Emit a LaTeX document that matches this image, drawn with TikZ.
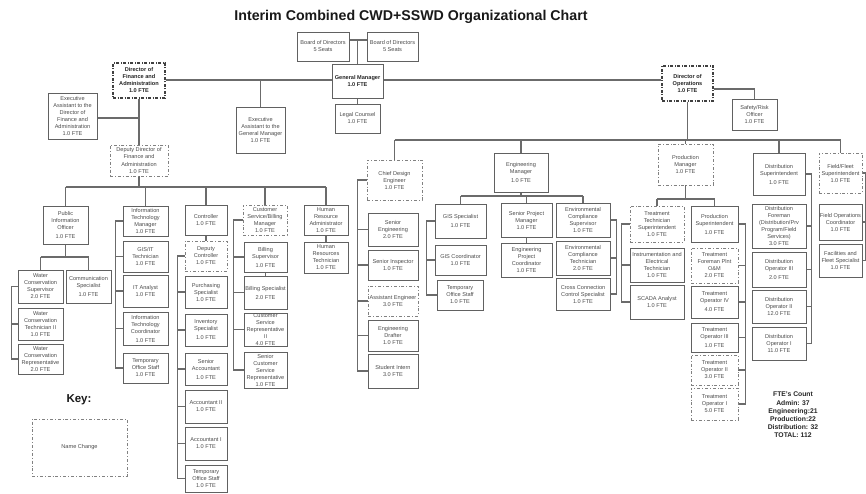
\documentclass[tikz,border=0pt]{standalone}
\usepackage{fontspec}
\setmainfont{Liberation Sans}
\usetikzlibrary{backgrounds,calc}

\definecolor{boxline}{gray}{0.38}
\definecolor{wirec}{gray}{0.42}
\definecolor{txtc}{gray}{0.30}

\newcommand\bxfont{\fontsize{5.6}{7}\selectfont}

% \orgbox[style]{name}{x1}{y1}{x2}{y2}{text}
\newcommand\orgbox[7][box]{%
  \node[#1, minimum width={(#5-#3)*1pt}, minimum height={(#6-#4)*1pt}]
    (#2) at ({(#3+#5)/2},{(#4+#6)/2}) {#7};}

\tikzset{
  box/.style={draw=boxline, line width=0.9pt, fill=white, align=center,
    inner sep=0pt, font=\bxfont, text=txtc},
  dbox/.style={box, draw=boxline!80, line width=0.8pt,
    dash pattern=on 3pt off 2pt on 0.8pt off 2pt},
  dirbox/.style={box, draw=black!75, line width=1.3pt, text=black!85,
    font=\bxfont\bfseries, dash pattern=on 3pt off 1.5pt on 1pt off 1.5pt},
  boldbox/.style={box, text=black!85, font=\bxfont\bfseries},
  wire/.style={draw=wirec, line width=1.1pt},
}

\begin{document}
\begin{tikzpicture}[x=1pt,y=-1pt]
\useasboundingbox (0,0) rectangle (866,494);

\node[font=\bfseries\fontsize{14.2}{16}\selectfont, text=black!90] (title) at (411,17)
  {Interim Combined CWD+SSWD Organizational Chart};

% top level
\orgbox{b1}{297}{32}{349}{61}{Board of Directors\\5 Seats}
\orgbox{b2}{367}{32}{418}{61}{Board of Directors\\5 Seats}
\orgbox[boldbox]{gm}{332}{64}{383}{98}{General Manager\\1.0 FTE}
\orgbox{lc}{335}{104}{380}{133}{Legal Counsel\\1.0 FTE}
\orgbox{eagm}{236}{107}{285}{153}{Executive\\Assistant to the\\General Manager\\1.0 FTE}

% finance and administration
\orgbox[dirbox]{dfa}{113}{63}{165}{98}{Director of\\Finance and\\Administration\\1.0 FTE}
\orgbox{eadfa}{48}{93}{97}{139}{Executive\\Assistant to the\\Director of\\Finance and\\Administration\\1.0 FTE}
\orgbox[dbox]{dep}{110}{145}{168}{176}{Deputy Director of\\Finance and\\Administration\\1.0 FTE}

\orgbox{pio}{43}{206}{88}{244}{Public\\Information\\Officer\\[2pt]1.0 FTE}
\orgbox{wcs}{18}{270}{63}{303}{Water\\Conservation\\Supervisor\\2.0 FTE}
\orgbox{csp}{66}{270}{111}{303}{Communication\\Specialist\\[2pt]1.0 FTE}
\orgbox{wct}{18}{308}{63}{340}{Water\\Conservation\\Technician II\\1.0 FTE}
\orgbox{wcr}{18}{344}{63}{374}{Water\\Conservation\\Representative\\2.0 FTE}

\orgbox{itm}{123}{206}{168}{236}{Information\\Technology\\Manager\\1.0 FTE}
\orgbox{gisit}{123}{241}{168}{272}{GIS/IT\\Technician\\1.0 FTE}
\orgbox{ita}{123}{275}{168}{307}{IT Analyst\\1.0 FTE}
\orgbox{itc}{123}{312}{168}{345}{Information\\Technology\\Coordinator\\[2pt]1.0 FTE}
\orgbox{tos1}{123}{353}{168}{383}{Temporary\\Office Staff\\1.0 FTE}

\orgbox{ctl}{185}{205}{227}{235}{Controller\\1.0 FTE}
\orgbox[dbox]{dc}{185}{241}{227}{271}{Deputy\\Controller\\1.0 FTE}
\orgbox{pur}{185}{276}{227}{308}{Purchasing\\Specialist\\1.0 FTE}
\orgbox{inv}{185}{314}{227}{346}{Inventory\\Specialist\\[2pt]1.0 FTE}
\orgbox{sa}{185}{353}{227}{385}{Senior\\Accountant\\[2pt]1.0 FTE}
\orgbox{a2}{185}{390}{227}{423}{Accountant II\\1.0 FTE}
\orgbox{a1}{185}{427}{227}{460}{Accountant I\\1.0 FTE}
\orgbox{tos2}{185}{465}{227}{492}{Temporary\\Office Staff\\1.0 FTE}

\orgbox[dbox]{csbm}{243}{205}{287}{235}{Customer\\Service/Billing\\Manager\\1.0 FTE}
\orgbox{bsup}{244}{242}{287}{272}{Billing\\Supervisor\\[2pt]1.0 FTE}
\orgbox{bspec}{244}{276}{287}{309}{Billing Specialist\\[2pt]2.0 FTE}
\orgbox{csr}{244}{313}{287}{346}{Customer\\Service\\Representative\\II\\4.0 FTE}
\orgbox{scsr}{244}{352}{287}{388}{Senior\\Customer\\Service\\Representative\\1.0 FTE}

\orgbox{hra}{304}{205}{348}{235}{Human\\Resource\\Administrator\\1.0 FTE}
\orgbox{hrt}{304}{242}{348}{273}{Human\\Resources\\Technician\\1.0 FTE}

% operations
\orgbox[dirbox]{dop}{662}{66}{713}{101}{Director of\\Operations\\1.0 FTE}
\orgbox{sro}{732}{99}{777}{130}{Safety/Risk\\Officer\\1.0 FTE}

\orgbox[dbox]{cde}{367}{160}{422}{200}{Chief Design\\Engineer\\1.0 FTE}
\orgbox{seng}{368}{213}{418}{246}{Senior\\Engineering\\2.0 FTE}
\orgbox{sins}{368}{250}{418}{280}{Senior Inspector\\1.0 FTE}
\orgbox[dbox]{aeng}{368}{286}{418}{316}{Assistant Engineer\\3.0 FTE}
\orgbox{edr}{368}{320}{418}{351}{Engineering\\Drafter\\1.0 FTE}
\orgbox{sti}{368}{354}{418}{388}{Student Intern\\3.0 FTE}

\orgbox{em}{494}{153}{548}{192}{Engineering\\Manager\\[2pt]1.0 FTE}
\orgbox{gis}{435}{204}{486}{238}{GIS Specialist\\[2pt]1.0 FTE}
\orgbox{gisc}{435}{245}{486}{275}{GIS Coordinator\\1.0 FTE}
\orgbox{tos3}{437}{280}{483}{310}{Temporary\\Office Staff\\1.0 FTE}
\orgbox{spm}{501}{203}{552}{237}{Senior Project\\Manager\\1.0 FTE}
\orgbox{epc}{501}{243}{552}{277}{Engineering\\Project\\Coordinator\\1.0 FTE}
\orgbox{ecs}{556}{203}{610}{237}{Environmental\\Compliance\\Supervisor\\1.0 FTE}
\orgbox{ect}{556}{241}{610}{275}{Environmental\\Compliance\\Technician\\2.0 FTE}
\orgbox{ccs}{556}{278}{610}{310}{Cross Connection\\Control Specialist\\1.0 FTE}

\orgbox[dbox]{pm}{658}{144}{713}{185}{Production\\Manager\\1.0 FTE}
\orgbox[dbox]{tts}{630}{206}{684}{242}{Treatment\\Technician\\Superintendent\\1.0 FTE}
\orgbox{iet}{630}{248}{684}{282}{Instrumentation and\\Electrical\\Technician\\1.0 FTE}
\orgbox{scada}{630}{285}{684}{319}{SCADA Analyst\\1.0 FTE}
\orgbox{psup}{691}{206}{738}{242}{Production\\Superintendent\\[2pt]1.0 FTE}
\orgbox[dbox]{tfp}{691}{248}{738}{283}{Treatment\\Foreman Plnt\\O\&M\\2.0 FTE}
\orgbox{to4}{691}{286}{738}{318}{Treatment\\Operator IV\\[2pt]4.0 FTE}
\orgbox{to3}{691}{323}{738}{352}{Treatment\\Operator III\\[2pt]1.0 FTE}
\orgbox[dbox]{to2}{691}{355}{738}{385}{Treatment\\Operator II\\3.0 FTE}
\orgbox[dbox]{to1}{691}{388}{738}{420}{Treatment\\Operator I\\5.0 FTE}

\orgbox{ds}{753}{153}{805}{195}{Distribution\\Superintendent\\[2pt]1.0 FTE}
\orgbox{df}{752}{204}{806}{248}{Distribution\\Foreman\\(Distribution/Prv\\Program/Field\\Services)\\3.0 FTE}
\orgbox{do3}{752}{252}{806}{287}{Distribution\\Operator III\\[2pt]2.0 FTE}
\orgbox{do2}{752}{290}{806}{323}{Distribution\\Operator II\\12.0 FTE}
\orgbox{do1}{752}{327}{806}{360}{Distribution\\Operator I\\11.0 FTE}

\orgbox[dbox]{ff}{819}{153}{862}{193}{Field/Fleet\\Superintendent\\1.0 FTE}
\orgbox{foc}{819}{204}{862}{240}{Field Operations\\Coordinator\\1.0 FTE}
\orgbox{ffs}{819}{244}{862}{277}{Facilities and\\Fleet Specialist\\1.0 FTE}

% key and totals
\node[font=\bfseries\fontsize{11.5}{13}\selectfont, text=black!90] (keylabel) at (79,400) {Key:};
\orgbox[dbox]{keybox}{32}{419}{127}{476}{Name Change}
\node[align=center, font=\bfseries\fontsize{6.8}{8.2}\selectfont, text=black!85] (fte) at (793,415)
  {FTE's Count\\Admin: 37\\Engineering:21\\Production:22\\Distribution: 32\\TOTAL: 112};

% connectors, drawn beneath the boxes
\begin{scope}[on background layer]
  \fill[white] (0,0) rectangle (866,494);
  \begin{scope}[every path/.append style={wire}]
  \coordinate (bb) at (0,40);
  \draw (b1.east |- bb) -- (b2.west |- bb);
  \draw (gm.north) -- (gm.north |- bb);
  \draw (gm.south) -- (lc.north);
  \coordinate (gmbus) at (0,80);
  \draw (dfa.east |- gmbus) -- (dop.west |- gmbus);
  \draw (eagm.north) -- (eagm.north |- gmbus);

  % finance and administration
  \draw (dfa.south) -- (dep.north);
  \coordinate (eab) at (0,118);
  \draw (eadfa.east |- eab) -- (dfa.south |- eab);
  \coordinate (fbus) at (0,187);
  \draw (dep.south) -- (dep.south |- fbus);
  \draw (pio.north |- fbus) -- (hra.north |- fbus);
  \foreach \n in {pio,itm,ctl,csbm,hra} \draw (\n.north) -- (\n.north |- fbus);
  \coordinate (pbus) at (0,257);
  \draw (pio.south) -- (pio.south |- pbus);
  \draw (wcs.north |- pbus) -- (csp.north |- pbus);
  \foreach \n in {wcs,csp} \draw (\n.north) -- (\n.north |- pbus);
  \foreach \n in {wct,wcr} \draw (wcs.west) -- ++(-6,0) |- (\n.west);
  \foreach \n in {gisit,ita,itc,tos1} \draw (itm.west) -- ++(-7,0) |- (\n.west);
  \draw (ctl.south) -- (dc.north);
  \foreach \n in {pur,inv,sa,a2,a1,tos2} \draw (dc.west) -- ++(-7,0) |- (\n.west);
  \foreach \n in {bsup,bspec,csr,scsr} \draw (csbm.west) -- ++(-9,0) |- (\n.west);
  \draw (bsup.south) -- (bspec.north);
  \draw (hra.south) -- (hrt.north);

  % operations
  \coordinate (sb) at (0,89);
  \draw (dop.east |- sb) -| (sro.north);
  \coordinate (obus) at (0,140);
  \draw (dop.south) -- (dop.south |- obus);
  \draw (cde.north |- obus) -- (ff.north |- obus);
  \foreach \n in {cde,em,pm,ds,ff} \draw (\n.north) -- (\n.north |- obus);
  \foreach \n in {seng,sins,aeng,edr,sti} \draw (cde.west) -- ++(-9,0) |- (\n.west);
  \coordinate (ebus) at (0,196);
  \draw (em.south) -- (em.south |- ebus);
  \draw (gis.north |- ebus) -- (ecs.north |- ebus);
  \foreach \n in {gis,spm,ecs} \draw (\n.north) -- (\n.north |- ebus);
  \foreach \n in {gisc,tos3} \draw (gis.west) -- ++(-8,0) |- (\n.west);
  \draw (spm.south) -- (epc.north);
  \foreach \n in {ect,ccs} \draw (ecs.east) -- ++(6,0) |- (\n.east);
  \coordinate (prbus) at (0,199);
  \draw (pm.south) -- (pm.south |- prbus);
  \draw (tts.north |- prbus) -- (psup.north |- prbus);
  \foreach \n in {tts,psup} \draw (\n.north) -- (\n.north |- prbus);
  \foreach \n in {iet,scada} \draw (tts.west) -- ++(-8,0) |- (\n.west);
  \foreach \n in {tfp,to4,to3,to2,to1} \draw (psup.east) -- ++(7,0) |- (\n.east);
  \foreach \n in {df,do3,do2,do1} \draw (ds.east) -- ++(6,0) |- (\n.east);
  \foreach \n in {foc,ffs} \draw (ff.east) -- ++(3,0) |- (\n.east);
  \end{scope}
\end{scope}
\end{tikzpicture}
\end{document}
